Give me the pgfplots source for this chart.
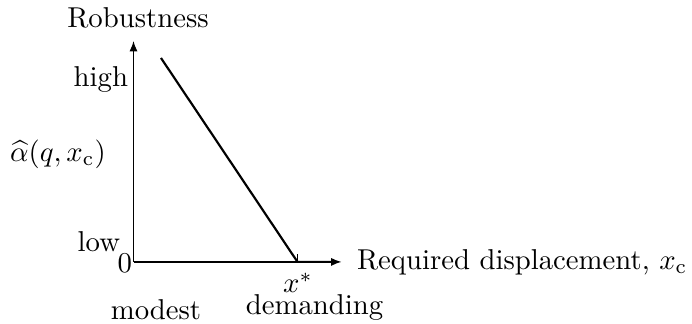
\documentclass[border=0pt]{standalone}
\usepackage{pgfplots}
\pgfplotsset{compat=1.18}
\usetikzlibrary{arrows.meta}
\begin{document}
\begin{tikzpicture}[lbl/.style={inner sep=0pt, outer sep=0pt}]
% data units are roughly reference pixels, origin at the axis corner
\begin{axis}[
    scale only axis,
    width=72.4pt, height=76.9pt,
    xmin=0, xmax=208, ymin=0, ymax=221,
    axis lines=left,
    axis line style={line width=0.45pt, -{Latex[length=3.6pt,width=2.8pt]}},
    clip=false,
    xtick={164}, xticklabels={},
    tick align=inside,
    x tick style={black, line width=0.45pt},
    major tick length=2.8pt,
    ytick=\empty,
]
\addplot[black, line width=0.75pt] coordinates {(27.5,204) (164,0) (204,0)};
\node[lbl] at (axis cs:4.5,244) {Robustness};
\node[lbl, anchor=east] at (axis cs:-5.5,182) {high};
\node[lbl, anchor=east] at (axis cs:-13.5,20) {low};
\node[lbl, anchor=east] at (axis cs:-1.5,-1) {0};
\node[lbl] at (axis cs:-75.5,108) {$\widehat{\alpha}(q,x_{\mathrm{c}})$};
\node[lbl] at (axis cs:164.5,-21) {$x^*$};
\node[lbl] at (axis cs:181,-46) {demanding};
\node[lbl] at (axis cs:22.5,-48) {modest};
\node[lbl, anchor=west] at (axis cs:223.5,0) {Required displacement, $x_{\mathrm{c}}$};
\path (axis cs:-133.5,-62) rectangle (axis cs:558.5,262);
\end{axis}
\end{tikzpicture}
\end{document}
